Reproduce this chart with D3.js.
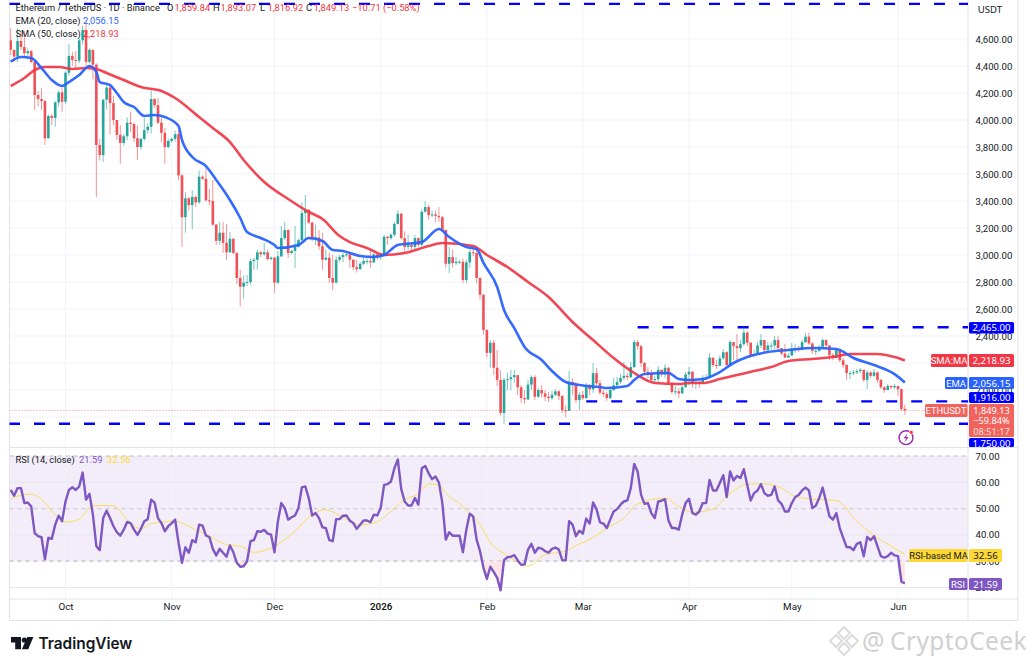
<!DOCTYPE html>
<html><head><meta charset="utf-8">
<style>html,body{margin:0;padding:0;background:#fff;}svg{display:block;}text{font-family:Roboto,sans-serif;}</style>
<script src="https://cdn.jsdelivr.net/npm/d3@7"></script>
</head><body><div id="c"></div>
<script>
const closes=[4520,4470,4585,4540,4495,4510,4430,4185,4155,4140,
3865,4030,4015,4130,4205,4135,4350,4475,4445,4440,
4590,4665,4430,4520,4410,3815,3740,4150,4240,4125,
4000,3890,3830,3880,3980,3970,3865,3800,3860,3925,
3950,4155,4110,3980,3905,3800,3845,3860,3895,3590,
3280,3420,3370,3430,3390,3580,3565,3405,3400,3225,
3105,3165,3090,3020,3120,3015,2830,2765,2795,2800,
2955,2965,3020,3005,3020,2970,2980,2795,2990,3125,
3185,3015,3030,3060,3110,3310,3335,3240,3120,3130,
3065,2965,2980,2830,2795,2965,2985,3000,3005,2965,
2910,2895,2935,2955,2955,2945,3005,2990,3000,3135,
3125,3150,3230,3305,3125,3060,3075,3060,3125,3075,
3320,3355,3295,3300,3290,3280,3185,2935,2985,2940,
2950,2950,2815,2945,3020,3015,2830,2705,2445,2275,
2350,2165,2075,1830,2075,2080,2095,2110,2020,1940,
1930,2040,2095,1950,2000,1975,1950,1940,1965,1990,
1955,1850,1845,2060,2040,1925,1965,1940,2030,2005,
2125,2050,1980,1970,1940,2000,2035,2060,2090,2105,
2095,2170,2355,2325,2200,2135,2125,2075,2080,2150,
2115,2165,2050,1985,1990,1975,2020,2115,2135,2050,
2060,2050,2090,2095,2240,2185,2180,2235,2280,2185,
2355,2325,2310,2340,2425,2350,2260,2265,2330,2370,
2295,2330,2330,2370,2310,2270,2240,2255,2310,2310,
2300,2355,2395,2345,2290,2290,2320,2370,2330,2260,
2240,2295,2220,2185,2125,2125,2130,2140,2150,2075,
2130,2105,2130,2075,2020,2000,2030,2020,2030,2005,
1859.84,1849.13];
const highs=[4680,4520,4680,4650,4660,4530,4520,4440,4215,4235,
4150,4040,4045,4140,4220,4240,4360,4565,4505,4510,
4610,4700,4725,4530,4520,4420,3860,4155,4260,4270,
4180,4000,3960,3895,4020,4060,3980,3960,3870,4015,
3975,4220,4160,4165,4015,3940,3860,3870,3920,3925,
3600,3465,3430,3480,3440,3625,3590,3650,3490,3555,
3230,3245,3245,3230,3170,3125,3020,2890,2850,2850,
2970,2980,3040,3030,3090,3040,2990,2985,3030,3215,
3245,3190,3040,3215,3120,3390,3445,3340,3245,3225,
3185,3165,3040,3020,3000,2990,3000,3015,3020,3020,
2970,2965,2950,2985,2975,3040,3015,3010,3015,3150,
3140,3160,3245,3330,3315,3175,3150,3080,3150,3130,
3340,3400,3370,3330,3330,3355,3290,3190,3060,3040,
2985,2965,2975,2965,3037,3050,3037,2835,2710,2450,
2370,2370,2296,2148,2090,2130,2150,2148,2110,2037,
2000,2074,2110,2110,2015,2037,2000,1985,1993,2007,
2000,1963,1889,2140,2088,2059,1985,1993,2052,2044,
2200,2163,2074,2000,1985,2015,2088,2096,2118,2207,
2125,2207,2375,2370,2333,2207,2170,2148,2104,2177,
2148,2192,2170,2059,2030,2015,2044,2133,2170,2140,
2088,2088,2110,2118,2275,2237,2222,2259,2303,2288,
2370,2355,2415,2370,2465,2437,2355,2296,2355,2415,
2370,2355,2355,2400,2400,2310,2340,2274,2348,2340,
2326,2370,2422,2425,2355,2311,2333,2385,2378,2333,
2274,2311,2281,2237,2192,2140,2148,2155,2163,2140,
2148,2140,2155,2140,2081,2030,2044,2037,2044,2030,
2015,1893.07];
const lows=[4480,4430,4430,4520,4470,4450,4420,4075,4100,4075,
3815,3865,3960,3950,4100,4060,4120,4330,4400,4380,
4420,4560,4400,4420,4300,3430,3700,3690,4080,3890,
3960,3850,3675,3810,3850,3910,3835,3705,3780,3845,
3900,3900,4090,3970,3835,3675,3790,3830,3840,3555,
3060,3165,3330,3190,3355,3380,3555,3395,3370,3215,
3075,3075,3015,2965,3015,3005,2785,2620,2675,2770,
2780,2890,2890,2985,2995,2960,2960,2720,2785,2985,
3110,2980,3005,2905,3055,3100,3095,3230,3100,3075,
3040,2890,2960,2795,2740,2790,2950,2945,2985,2905,
2885,2870,2890,2925,2930,2905,2940,2965,2963,2995,
3075,3110,3135,3225,3115,3020,3037,3037,3045,3060,
3065,3315,3260,3280,3245,3245,3170,2905,2865,2905,
2925,2935,2790,2790,2905,2990,2790,2670,2410,2240,
2165,2110,2030,1810,1750,2000,2000,2052,1963,1904,
1897,1926,2000,1926,1941,1941,1919,1911,1926,1955,
1926,1830,1800,1845,1963,1904,1852,1926,1934,1963,
1978,2037,1963,1948,1919,1934,1993,2015,2044,2074,
2074,2088,2163,2296,2170,2118,2088,2052,2052,2044,
2096,2088,2037,1970,1963,1941,1970,2052,2037,2015,
2007,2015,2044,2074,2088,2170,2155,2178,2222,2178,
2178,2222,2222,2281,2326,2326,2244,2244,2259,2311,
2281,2281,2296,2303,2296,2259,2237,2244,2259,2274,
2281,2296,2348,2333,2266,2259,2281,2303,2311,2222,
2222,2237,2207,2163,2074,2081,2110,2118,2125,2059,
2007,2088,2096,2052,2007,1978,2000,2007,2007,1955,
1845,1816.92];
const firstOpen=4590;
const emaDays=[0,3,6,9,12,15,17,20,23,25,26,29,31,33,36,39,42,45,49,50,53,57,60,64,67,69,73,77,78,84,87,91,94,97,102,106,109,113,120,125,128,133,136,138,142,144,147,150,155,158,162,166,172,174,180,182,185,192,195,198,202,207,211,215,221,227,234,241,246,252,258,261];
const emaValues=[4433,4467,4459,4385,4296,4252,4281,4333,4400,4356,4281,4259,4200,4133,4096,4030,4037,4022,3956,3852,3726,3659,3556,3407,3274,3170,3126,3074,3052,3074,3126,3104,3037,3030,2993,2985,3000,3074,3096,3193,3133,3059,3044,2941,2763,2593,2459,2319,2222,2141,2059,2037,2022,2015,2030,2074,2118,2126,2081,2074,2081,2133,2200,2244,2281,2296,2311,2304,2237,2185,2118,2056.15];
const smaDays=[0,4,7,10,14,18,22,25,28,33,38,44,48,55,59,64,68,74,81,87,91,96,99,104,109,115,122,126,135,139,145,151,157,164,170,176,182,188,195,198,202,207,212,217,222,227,234,240,245,253,258,261];
const smaValues=[4252,4311,4370,4393,4393,4378,4385,4378,4348,4296,4244,4215,4163,4022,3941,3837,3704,3541,3415,3319,3267,3141,3096,3052,3000,3015,3067,3089,3067,3000,2911,2800,2689,2504,2370,2237,2126,2052,2044,2052,2052,2081,2111,2141,2170,2215,2230,2244,2267,2267,2244,2218.93];
const rsi=[57.1,54.9,57.8,57.8,52.1,52.3,50.8,40.7,39.5,39.1,30.7,38.9,38.5,43.9,47.3,45.2,52.7,57.1,58.1,57.1,58.4,63.7,53.4,55.6,47.7,35.7,34.2,46.4,49.2,46.4,43.3,41,39.7,42,44.9,44.5,42,40,42.3,45.2,46,53.4,52.3,46.4,44.5,41.4,43.3,44.5,45.8,37,29.4,35.3,33.2,38,37.2,43.9,43.5,39.7,39.2,34.7,32.2,34.7,33.2,31.7,36,33.4,29.4,27.9,28.1,30,37.6,38,41.4,41.2,41.9,40.5,40.1,33.4,45.2,52.1,50.2,45.8,46.7,47.4,50.2,58.1,58.4,54,47.4,48.3,46.4,42.9,42.6,38,37.6,46,46,
47.3,47.4,45.4,44.5,42.3,43.9,45.5,45.5,44.8,47.7,47.4,50.2,59,59.3,60.3,65.3,68.7,57.4,52.7,51.2,51.2,54,51.5,65.3,66.2,63.4,61.2,62.2,59.9,52.1,38.2,41,39.7,39.7,39.7,33.4,42,48.1,47,38.2,33.8,27.5,23.3,27.9,25.9,23.7,18.9,30.4,31.5,31.7,32.3,30.3,28.6,28.8,34.4,36.6,33.2,35.1,34.8,33.8,33.2,34.7,35.2,34.4,30.4,30.3,45.2,43.9,39.5,41.6,40.5,46.2,44.3,52.3,49.8,44.8,44.3,42.6,45.8,48.9,49.8,51.5,52.7,53.1,57.8,67,64.1,55.2,51.8,52.1,48.3,46.4,52.7,53,53.6,45.5,42.6,42.6,42,
47.7,52.1,53.7,48.3,47.7,48.9,52.1,52.1,60.9,56.9,56.9,59.7,62.7,54.4,64.1,60.7,62.4,61.6,65,59,53.1,55.9,56.9,59.3,55.9,54.9,55.2,58.4,53.1,51.8,48.9,48.9,52.1,54.4,55.2,56.9,58,56.9,50.2,51.1,54,58,52.7,47,45.8,48.3,42.6,38.9,35.4,35.3,34.2,36.6,37.2,31.9,39.2,38,39.5,35.7,31.9,31.3,31.9,33.2,32.2,31.9,22.2,21.59];
const rsiMaDays=[0,6,9,13,16,20,24,30,34,38,41,48,53,58,63,67,71,77,83,88,92,96,102,106,111,115,119,122,125,127,132,137,140,145,151,156,162,165,169,174,179,183,191,195,199,205,209,215,220,225,229,234,241,247,253,257,261];
const rsiMaValues=[54,55.5,53.4,47.7,44.9,46,51.2,51.1,45.8,42.3,44.3,45.2,42.6,39.5,36.3,35.7,33.4,35.7,41.4,47.7,49.6,47.4,43.9,44.5,48.9,53.4,55.6,59.3,59,55.9,50.8,43.9,37.2,32.2,28.1,32.5,33.8,36,38.2,42.6,46.4,51.8,54,50.8,48.6,49.8,54.6,59.3,59.4,57.8,54.6,53.6,53.1,45.2,38.9,35.7,32.56];
const priceGrid=[4600,4400,4200,4000,3800,3600,3400,3200,3000,2800,2600,2400,2200,2000,1800];
const priceTickLabels=[4600,4400,4200,4000,3800,3600,3400,3200,3000,2800,2600,2400,2000];
const rsiTicks=[70,60,50,40,30,20];
const rsiBands=[70,50,30];
const levels=[{price:4860,from:0},{price:2465,from:183},{price:1916,from:168},{price:1750,from:0}];
const monthTicks=[["2025-10-01","Oct"],["2025-11-01","Nov"],["2025-12-01","Dec"],["2026-01-01","2026"],["2026-02-01","Feb"],["2026-03-01","Mar"],["2026-04-01","Apr"],["2026-05-01","May"],["2026-06-01","Jun"]];
const legendOHLC=[["O","1,859.84",167],["H","1,893.07",213],["L","1,816.92",260],["C","1,849.13",306]];

const W=1028,H=666,paneL=9.5,paneR=968,axisR=1018,timeTop=599,timeBot=620.5;
const GREEN="#26a69a",RED="#f05056",BLUE="#2962ff",SRED="#f23645",PURPLE="#7e57c2",YEL="#fdd835",LVL="#0000ff";
const AXFONT='"Noto Sans",sans-serif';
const day0=Date.UTC(2025,8,15);
const dateOf=i=>new Date(day0+i*864e5);
const x=d3.scaleUtc().domain([new Date(Date.UTC(2025,9,1)),new Date(Date.UTC(2026,5,1))]).range([65.5,898]);
const xi=i=>x(dateOf(i));
const y=d3.scaleLinear().domain([4600,2400]).range([39,336]);
const yR=d3.scaleLinear().domain([70,20]).range([456,587.5]);

const svg=d3.select("#c").append("svg").attr("width",W).attr("height",H).attr("viewBox",`0 0 ${W} ${H}`);
const defs=svg.append("defs");
defs.append("clipPath").attr("id","pane").append("rect").attr("x",paneL).attr("y",0).attr("width",paneR-paneL).attr("height",447);
defs.append("clipPath").attr("id","below30").append("rect").attr("x",paneL).attr("y",yR(30)).attr("width",paneR-paneL).attr("height",timeTop-yR(30));

const grid="#f0f3fa",border="#e0e3eb";
const g=svg.append("g");
g.append("rect").attr("x",paneL).attr("y",yR(70)).attr("width",paneR-paneL).attr("height",yR(30)-yR(70)).attr("fill","#f3edfa");
g.selectAll(".vg").data(monthTicks).join("line").attr("x1",d=>x(new Date(d[0]))).attr("x2",d=>x(new Date(d[0]))).attr("y1",0).attr("y2",timeTop).attr("stroke",grid).attr("stroke-width",1);
g.selectAll(".hg").data(priceGrid).join("line").attr("x1",paneL).attr("x2",paneR).attr("y1",d=>y(d)).attr("y2",d=>y(d)).attr("stroke",grid);
g.selectAll(".rg").data(rsiTicks.filter(d=>!rsiBands.includes(d))).join("line").attr("x1",paneL).attr("x2",paneR).attr("y1",d=>yR(d)).attr("y2",d=>yR(d)).attr("stroke","#e9e6f2");
g.selectAll(".rb").data(rsiBands).join("line").attr("x1",paneL).attr("x2",paneR).attr("y1",d=>yR(d)).attr("y2",d=>yR(d)).attr("stroke",d=>d===50?"#cfcdd6":"#b9b9c0").attr("stroke-width",1.2).attr("stroke-dasharray","4 4");
g.append("path").attr("d",`M${paneL},0V${timeBot}H${axisR}V0M${paneR},0V${timeBot}M${paneL},${timeTop}H${axisR}M${paneL},447.5H${axisR}`).attr("fill","none").attr("stroke",border);

const pane=svg.append("g").attr("clip-path","url(#pane)");
levels.forEach(l=>{
  pane.append("line").attr("x1",l.from?xi(l.from):9).attr("x2",paneR).attr("y1",y(l.price)).attr("y2",y(l.price))
    .attr("stroke",LVL).attr("stroke-width",2.4).attr("stroke-dasharray","11 14");
});
pane.append("line").attr("x1",paneL).attr("x2",paneR).attr("y1",y(closes[261])).attr("y2",y(closes[261])).attr("stroke",SRED).attr("stroke-opacity",.65).attr("stroke-dasharray","1 2");

const candles=closes.map((c,i)=>({i,o:i?closes[i-1]:firstOpen,c,h:highs[i],l:lows[i]}));
const cg=pane.append("g");
cg.selectAll(".w").data(candles).join("line").attr("x1",d=>xi(d.i)).attr("x2",d=>xi(d.i)).attr("y1",d=>y(d.h)).attr("y2",d=>y(d.l))
 .attr("stroke",d=>d.c>=d.o?GREEN:RED).attr("stroke-width",1).attr("stroke-opacity",.62);
cg.selectAll(".b").data(candles).join("rect").attr("x",d=>xi(d.i)-1.3).attr("width",2.6)
 .attr("y",d=>Math.min(y(d.o),y(d.c))).attr("height",d=>Math.max(1,Math.abs(y(d.o)-y(d.c))))
 .attr("fill",d=>d.c>=d.o?GREEN:RED);

const ln=()=>d3.line().x(d=>d[0]).y(d=>d[1]).curve(d3.curveMonotoneX);
const series=(days,vals,sc)=>days.map((d,k)=>[xi(d),sc(vals[k])]);
pane.append("path").attr("d",ln()(series(smaDays,smaValues,y))).attr("fill","none").attr("stroke",SRED).attr("stroke-opacity",.92).attr("stroke-width",2.6);
pane.append("path").attr("d",ln()(series(emaDays,emaValues,y))).attr("fill","none").attr("stroke",BLUE).attr("stroke-opacity",.95).attr("stroke-width",2.6);

defs.append("linearGradient").attr("id","osg").attr("x1",0).attr("x2",0).attr("y1",0).attr("y2",1)
  .selectAll("stop").data([["0%","#fef3f2"],["100%","#fde2e2"]]).join("stop").attr("offset",d=>d[0]).attr("stop-color",d=>d[1]);
const rsiIdx=rsi.map((v,i)=>i);
svg.append("path").attr("clip-path","url(#below30)")
  .attr("d",d3.area().x(i=>xi(i)).y0(yR(30)).y1(i=>yR(rsi[i]))(rsiIdx)).attr("fill","url(#osg)");
svg.append("path").attr("d",ln()(series(rsiMaDays,rsiMaValues,yR))).attr("fill","none").attr("stroke",YEL).attr("stroke-opacity",.8).attr("stroke-width",1);
svg.append("path").attr("d",d3.line().x(i=>xi(i)).y(i=>yR(rsi[i]))(rsiIdx)).attr("fill","none").attr("stroke",PURPLE).attr("stroke-width",2.4).attr("stroke-linejoin","round");

const fmt=d3.format(",.2f");
const axisTxt="#131722";
const axP=d3.axisRight(y).tickValues(priceTickLabels).tickFormat(fmt).tickSize(0).tickPadding(0);
const gP=svg.append("g").attr("transform",`translate(975.5,0)`).call(axP);
const axR=d3.axisRight(yR).tickValues(rsiTicks).tickFormat(fmt).tickSize(0).tickPadding(0);
const gR=svg.append("g").attr("transform",`translate(975.5,0)`).call(axR);
[gP,gR].forEach(s=>{s.select(".domain").remove();s.selectAll("text").attr("font-size",9.6).attr("font-family",AXFONT).attr("fill",axisTxt).attr("x",0);});
const txt=(t,xp,yp,o={})=>svg.append("text").text(t).attr("x",xp).attr("y",yp).attr("font-size",o.s||9.6).attr("fill",o.f||axisTxt)
  .attr("text-anchor",o.a||"start").attr("dominant-baseline","central").attr("font-weight",o.w||400).style("font-family",o.ff||AXFONT);
txt("USDT",990,9.5,{a:"middle"});

const axT=d3.axisBottom(x).tickValues(monthTicks.map(d=>new Date(d[0]))).tickSize(0).tickPadding(0)
  .tickFormat((d,i)=>monthTicks[i][1]);
const gT=svg.append("g").attr("transform",`translate(0,603.5)`).call(axT);
gT.select(".domain").remove();
gT.selectAll("text").attr("font-size",9.8).attr("font-family",AXFONT).attr("fill",axisTxt)
  .attr("font-weight",(d,i)=>monthTicks[i][1]==="2026"?600:400);

function box(x0,x1,y0,y1,f){svg.append("rect").attr("x",x0).attr("y",y0).attr("width",x1-x0).attr("height",y1-y0).attr("fill",f).attr("rx",1.5);}
const lx0=969,lx1=1014,LF="Roboto,sans-serif";
function lab(val,y0,y1,f,tc){box(lx0,lx1,y0,y1,f);txt(val,991.5,(y0+y1)/2,{a:"middle",f:tc||"#fff"});}
lab(fmt(levels[1].price),322,333.5,LVL);
box(931,967.5,354,367,SRED);txt("SMA:MA",949,360.5,{a:"middle",f:"#fff",s:9.4,ff:LF});lab(fmt(smaValues[smaValues.length-1]),354,367,SRED);
box(945,967.5,377,389,BLUE);txt("EMA",956,383,{a:"middle",f:"#fff",s:9.4,ff:LF});lab(fmt(emaValues[emaValues.length-1]),377,389,BLUE);
lab(fmt(levels[2].price),392,403,LVL);
box(925,967.5,404,417,"#f2635d");txt("ETHUSDT",946,410.5,{a:"middle",f:"#fff",s:9.4,ff:LF});
box(lx0,lx1,404,437,"#f2635d");
txt(fmt(closes[261]),991.5,410,{a:"middle",f:"#fff",s:9.2});
txt("\u221259.84%",991.5,420.5,{a:"middle",f:"#fff",s:9.2});
txt("08:51:17",991.5,431,{a:"middle",f:"#fde0de",s:9.2});
box(lx0,lx1,438,447,LVL);
svg.append("clipPath").attr("id","c1750").append("rect").attr("x",lx0).attr("y",438).attr("width",lx1-lx0).attr("height",9);
txt(fmt(levels[3].price),991.5,443.5,{a:"middle",f:"#fff"}).attr("clip-path","url(#c1750)");
box(909,967.5,549,562,YEL);txt("RSI-based MA",938.5,555.5,{a:"middle",s:9.4,ff:LF});
box(lx0,1002,549,562,YEL);txt(rsiMaValues[rsiMaValues.length-1].toFixed(2),985.5,555.5,{a:"middle"});
box(949,967.5,578,590,PURPLE);txt("RSI",958,584,{a:"middle",f:"#fff",s:9.4,ff:LF});
box(lx0,1002,578,590,PURPLE);txt(rsi[rsi.length-1].toFixed(2),985.5,584,{a:"middle",f:"#fff"});

const bolt=svg.append("g").attr("transform","translate(906,437.7)");
bolt.append("circle").attr("r",6.9).attr("fill","#fff").attr("stroke","#9c27b0").attr("stroke-width",1.4);
bolt.append("path").attr("d","M1.6,-4.2 L-2.4,0.6 H0 L-1.4,4.2 L2.6,-0.8 H0.2 Z").attr("fill","#9c27b0");
bolt.append("circle").attr("cx",5.2).attr("cy",-5.4).attr("r",2).attr("fill","#f23645").attr("stroke","#fff").attr("stroke-width",.7);

const lg=9.3;
const L={s:lg,ff:LF};
txt("Ethereum / TetherUS \u00b7 1D \u00b7 Binance",15.5,7,L);
legendOHLC.forEach(d=>{txt(d[0],d[2],7,L);txt(d[1],d[2]+7.5,7,{...L,f:SRED});});
txt("\u221210.71 (\u22120.58%)",352,7,{...L,f:SRED});
txt("EMA (20, close)",15.5,20.5,L);txt(fmt(emaValues[emaValues.length-1]),83,20.5,{...L,f:BLUE});
txt("SMA (50, close)",15.5,33.5,L);txt(fmt(smaValues[smaValues.length-1]),83,33.5,{...L,f:SRED});
txt("RSI (14, close)",15.5,459.5,L);txt(rsi[rsi.length-1].toFixed(2),79,459.5,{...L,f:PURPLE});txt(rsiMaValues[rsiMaValues.length-1].toFixed(2),107,459.5,{...L,f:YEL});

const logo=svg.append("g").attr("fill","#131722");
logo.append("path").attr("d","M11,637H21V649.3H15.2V642.5H11Z");
logo.append("circle").attr("cx",24.3).attr("cy",640).attr("r",2.6);
logo.append("path").attr("d","M27.2,637H33.4L28.2,649.3H21.9Z");
svg.append("text").text("TradingView").attr("x",38.5).attr("y",649).attr("font-size",15.4).attr("font-weight",600).attr("fill","#131722").style("font-family","Inter,sans-serif");

const wm=svg.append("g").attr("fill","none").attr("stroke","#dadada").attr("transform","translate(844,641)");
wm.append("path").attr("d","M0,-14L6,-8L0,-2L-6,-8ZM-8,-6L-2,0L-8,6L-14,0ZM8,-6L14,0L8,6L2,0ZM0,2L6,8L0,14L-6,8Z").attr("stroke-width",1.8);
svg.append("text").text("@").attr("x",862).attr("y",650).attr("font-size",25).attr("fill","#cfcfcf").style("font-family",AXFONT);
svg.append("text").text("CryptoCeek").attr("x",890).attr("y",650).attr("font-size",24.5).attr("fill","#d0d0d0").attr("letter-spacing",.4).style("font-family",AXFONT);
</script></body></html>
